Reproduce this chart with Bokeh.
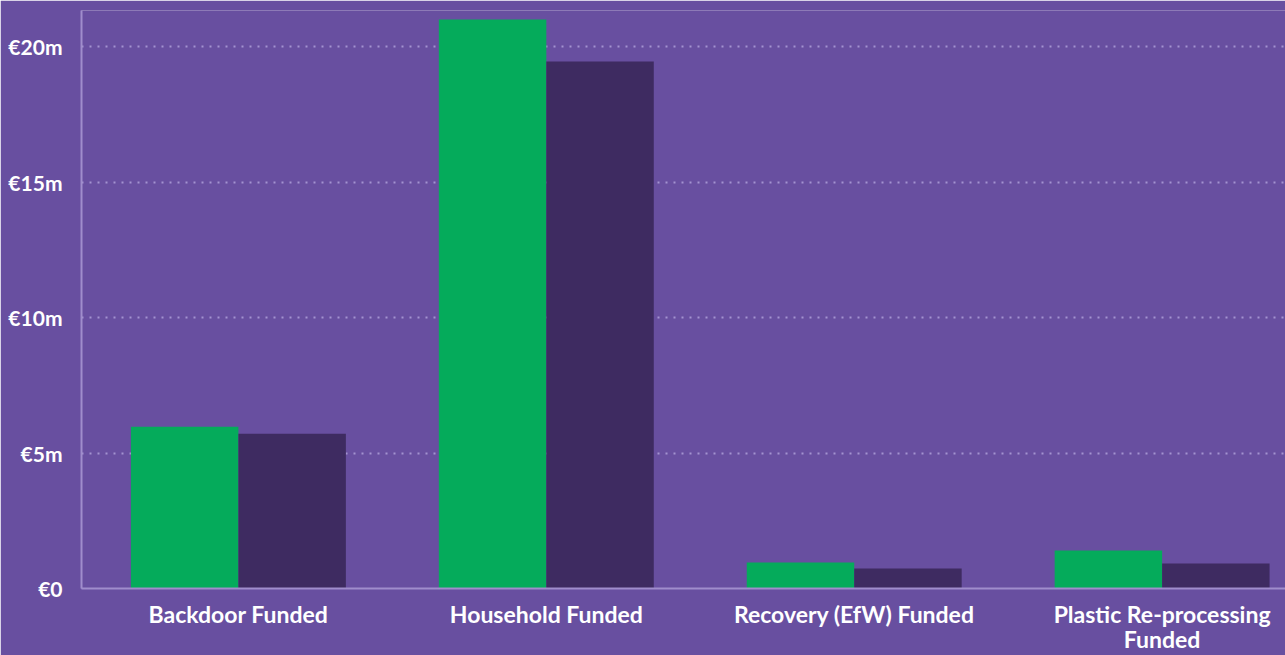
from bokeh.plotting import figure
from bokeh.models import ColumnDataSource, Range1d, FixedTicker
from bokeh.transform import dodge
from bokeh.embed import file_html
from bokeh.resources import INLINE

categories = ["Backdoor Funded", "Household Funded", "Recovery (EfW) Funded", "Plastic Re-processing\nFunded"]
series_a = [5.97, 21.0, 0.96, 1.40]   # green, €m
series_b = [5.71, 19.45, 0.74, 0.92]  # dark purple, €m
y_ticks = [0, 5, 10, 15, 20]
y_tick_labels = ["€0", "€5m", "€10m", "€15m", "€20m"]

BG = "#684fa0"
GREEN = "#05ab5b"
DARK = "#3e2b61"
AXIS = "#a08dcc"
GRID = "#a393d0"
FONT = "Lato"

src = ColumnDataSource(dict(x=list(range(len(categories))), a=series_a, b=series_b))

p = figure(width=1285, height=655, output_backend="svg", toolbar_location=None,
           x_range=Range1d(-0.5096, 3.4007), y_range=Range1d(0, 21.33),
           min_border_left=81, min_border_top=10, min_border_bottom=66, min_border_right=0)
p.background_fill_color = BG
p.border_fill_color = BG
p.outline_line_color = None

bw = 0.349
p.vbar(x=dodge("x", -bw / 2, range=p.x_range), top="a", width=bw, source=src,
       fill_color=GREEN, line_color=None)
p.vbar(x=dodge("x", bw / 2, range=p.x_range), top="b", width=bw, source=src,
       fill_color=DARK, line_color=None)

p.xgrid.grid_line_color = None
p.ygrid.grid_line_color = GRID
p.ygrid.grid_line_width = 2
p.ygrid.grid_line_dash = "2 6"
p.ygrid.ticker = FixedTicker(ticks=y_ticks[1:])

p.yaxis.ticker = FixedTicker(ticks=y_ticks)
p.yaxis.major_label_overrides = {t: l for t, l in zip(y_ticks, y_tick_labels)}
p.xaxis.ticker = FixedTicker(ticks=list(range(len(categories))))
p.xaxis.major_label_overrides = {i: c for i, c in enumerate(categories)}

for ax in (p.xaxis[0], p.yaxis[0]):
    ax.axis_line_color = AXIS
    ax.axis_line_width = 2
    ax.major_tick_line_color = None
    ax.minor_tick_line_color = None
    ax.major_tick_out = 0
    ax.major_tick_in = 0
    ax.major_label_text_color = "white"
    ax.major_label_text_font = FONT
    ax.major_label_text_font_style = "bold"

p.yaxis.major_label_text_font_size = "21px"
p.yaxis.major_label_standoff = 19
p.xaxis.major_label_text_font_size = "23px"
p.xaxis.major_label_standoff = 11
p.xaxis.major_label_text_line_height = 0.9

open("out.html", "w").write(file_html(p, INLINE))
